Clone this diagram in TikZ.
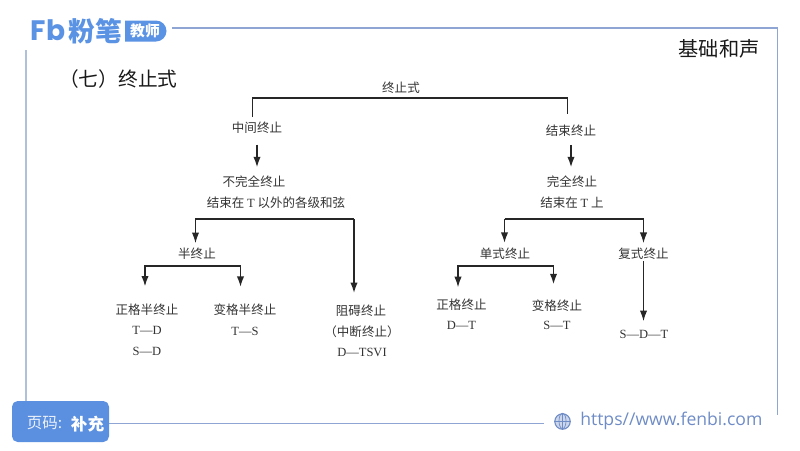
\documentclass[tikz,border=0pt]{standalone}
\usepackage{fontspec}
\setmainfont{Liberation Serif}
\newfontfamily\cjk{Noto Sans CJK SC}
\newfontfamily\logofont{Poppins}
\newfontfamily\urlfont{Open Sans}
\usetikzlibrary{arrows.meta}
\definecolor{frameblue}{HTML}{8FA5D3}
\definecolor{frameleft}{HTML}{AFC0DA}
\definecolor{logoblue}{HTML}{5A92E4}
\definecolor{pageblue}{HTML}{5B8FDF}
\definecolor{urlblue}{HTML}{6F8CC6}
\tikzset{>={Latex[length=7.5pt,width=5.2pt]}}
\tikzset{
	label/.style={font=\cjk\fontsize{8.9}{10}\selectfont, text=black!80, inner sep=0pt},
	small/.style={font=\fontsize{8.9}{10}\selectfont, text=black!80, inner sep=0pt},
	stem/.style={draw=black!85, line width=0.8pt},
	heavy/.style={draw=black!85, line width=1.2pt}
}
\begin{document}
\begin{tikzpicture}[x=0.025cm, y=-0.025cm]
	\useasboundingbox (0,0) rectangle (800,450);

	% frame
	\draw[frameblue, line width=1.2pt] (172,28) -- (777.5,28) -- (777.5,415);
	\draw[frameleft, line width=1.2pt] (26,50) -- (26,402);
	\draw[frameblue, line width=1.2pt] (109,423.5) -- (544,423.5);

	% logo
	\node[font=\logofont\bfseries\fontsize{20}{20}\selectfont, text=logoblue, inner sep=0pt] (logoFb) at (48,30) {Fb};
	\node[font=\cjk\bfseries\fontsize{19}{19}\selectfont, text=logoblue, inner sep=0pt] (logoName) at (95,31) {粉笔};
	\fill[logoblue] (125,20.5) -- (156,20.5) arc[start angle=-90, end angle=90, radius=10.5] -- (125,41.5) -- cycle;
	\node[font=\cjk\bfseries\fontsize{10.5}{11}\selectfont, text=white, inner sep=0pt] (logoTag) at (145,31) {教师};

	% headings
	\node[font=\cjk\fontsize{14.4}{15}\selectfont, text=black!90, inner sep=0pt] (topic) at (719,49) {基础和声};
	\node[font=\cjk\fontsize{14}{15}\selectfont, text=black!90, inner sep=0pt, anchor=west] (title) at (59,79) {（七）终止式};

	% page box and url
	\fill[pageblue, rounded corners=4pt] (12,401) rectangle (109,442);
	\node[font=\cjk\fontsize{11}{12}\selectfont, text=white!88!pageblue, inner sep=0pt] (pageno) at (44.5,423) {页码:};
	\node[font=\cjk\bfseries\fontsize{11.8}{12}\selectfont, text=white, inner sep=0pt] (pagetag) at (87.5,424) {补充};
	\node[circle, draw=urlblue, fill=urlblue!35, line width=0.8pt, minimum size=11pt, inner sep=0pt] (globe) at (562.5,421.5) {};
	\draw[urlblue, line width=0.5pt] (globe.north) -- (globe.south);
	\draw[urlblue, line width=0.5pt] (globe.west) -- (globe.east);
	\draw[urlblue, line width=0.5pt] (globe.north) arc[start angle=90, end angle=270, x radius=2.5pt, y radius=5.5pt];
	\draw[urlblue, line width=0.5pt] (globe.north) arc[start angle=90, end angle=-90, x radius=2.5pt, y radius=5.5pt];
	\node[font=\urlfont\fontsize{12.5}{13}\selectfont, text=urlblue, inner sep=0pt, anchor=west] (url) at (580,421) {https//www.fenbi.com};

	% top level
	\node[label] (root) at (401,88) {终止式};
	\node[label] (mid) at (257,128) {中间终止};
	\node[label] (end) at (571,131) {结束终止};
	\coordinate (rootL) at (252.5,98);
	\coordinate (rootR) at (567.5,98);
	\draw[stem, shorten <=3.5pt, shorten >=8pt] (rootL |- mid.north) -- (rootL) -- (rootR) -- (rootR |- end.north);

	% left branch
	\node[label] (incomplete) at (254,182) {不完全终止};
	\node[label] (incompleteB) at (276,202.5) {结束在 {\rmfamily T} 以外的各级和弦};
	\node[label] (half) at (197,254) {半终止};
	\node[label] (halfA) at (147,309.5) {正格半终止};
	\node[small] (halfAb) at (147,330.5) {T—D};
	\node[small] (halfAc) at (147,351) {S—D};
	\node[label] (halfB) at (245,310) {变格半终止};
	\node[small] (halfBb) at (245,331.5) {T—S};
	\node[label] (stop) at (361,310.5) {阻碍终止};
	\node[label] (stopB) at (362,331.5) {（中断终止）};
	\node[small] (stopC) at (362,352) {D—TSVI};
	\draw[->, heavy, shorten <=7.5pt, shorten >=6pt] (mid.south) -- (mid.south |- incomplete.north);
	\coordinate (splitL) at (195.5,219);
	\coordinate (splitR) at (354,219);
	\draw[->, heavy, shorten >=8pt] (splitR) -- (splitR |- stop.north);
	\draw[->, stem, shorten >=3.5pt] (splitR) -- (splitL) -- (splitL |- half.north);
	\coordinate (halfL) at (145,266);
	\coordinate (halfR) at (240.5,266);
	\draw[->, heavy, shorten >=12pt] (halfR) -- (halfR |- halfB.north);
	\draw[->, heavy, shorten >=12pt] (halfR) -- (halfL) -- (halfL |- halfA.north);

	% right branch
	\node[label] (complete) at (572,182) {完全终止};
	\node[label] (completeB) at (572,202.5) {结束在 {\rmfamily T} 上};
	\node[label] (single) at (505,254) {单式终止};
	\node[label] (compound) at (643.5,254) {复式终止};
	\node[label] (singleA) at (461.5,304.5) {正格终止};
	\node[small] (singleAb) at (461.5,325) {D—T};
	\node[label] (singleB) at (557,306) {变格终止};
	\node[small] (singleBb) at (557,325.5) {S—T};
	\node[small] (chain) at (644,334) {S—D—T};
	\draw[->, heavy, shorten <=5.5pt, shorten >=6pt] (end.south) -- (end.south |- complete.north);
	\coordinate (rsplitL) at (504.5,219);
	\coordinate (rsplitR) at (643.5,219);
	\draw[->, stem, shorten >=3.5pt] (rsplitR) -- (rsplitR |- compound.north);
	\draw[->, heavy, shorten >=3.5pt] (rsplitL) -- (rsplitL |- single.north);
	\draw[stem] (rsplitL) -- (rsplitR);
	\coordinate (singleL) at (458,266);
	\coordinate (singleR) at (553.5,266);
	\draw[->, heavy, shorten >=11pt] (singleR) -- (singleR |- singleB.north);
	\draw[->, stem, shorten >=8pt] (singleR) -- (singleL) -- (singleL |- singleA.north);
	\draw[->, stem, shorten <=1pt, shorten >=6pt] (compound.south) -- (compound.south |- chain.north);
\end{tikzpicture}
\end{document}
